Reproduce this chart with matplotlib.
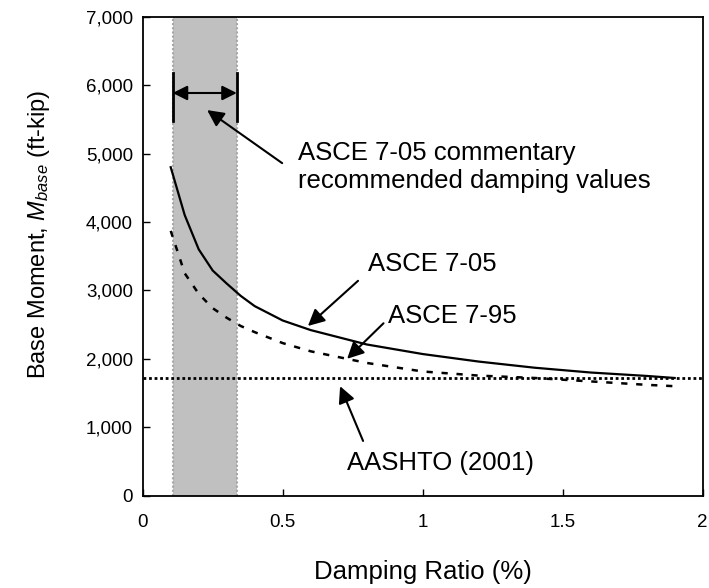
import matplotlib.pyplot as plt
from matplotlib.ticker import FuncFormatter

plt.rcParams['font.family'] = ['Liberation Sans', 'DejaVu Sans']
plt.rcParams['mathtext.fontset'] = 'custom'
plt.rcParams['mathtext.rm'] = 'Liberation Sans'
plt.rcParams['mathtext.it'] = 'Liberation Sans:italic'

# damping ratio (%) and base moment (ft-kip)
damping = [0.1, 0.15, 0.2, 0.25, 0.3, 0.35, 0.4, 0.5, 0.6, 0.8, 1.0, 1.2, 1.4, 1.6, 1.8, 1.9]
asce_705 = [4800, 4100, 3600, 3290, 3100, 2920, 2770, 2560, 2420, 2210, 2070, 1960, 1870, 1800, 1750, 1720]
asce_795 = [3870, 3250, 2950, 2740, 2600, 2480, 2390, 2230, 2110, 1940, 1815, 1755, 1720, 1670, 1620, 1600]
aashto = 1725

# commentary recommended damping range
rec_range = [0.107, 0.336]

fig = plt.figure(figsize=(7.09, 5.88), dpi=100)
ax = fig.add_axes([0.2013, 0.157, 0.7898, 0.8146])

ax.axvspan(rec_range[0], rec_range[1], color='#c0c0c0', lw=0, zorder=0)
for xv in rec_range:
    ax.axvline(xv, color='#a6a6a6', lw=1.5, ls=(0, (1, 1)), zorder=0.5)

ax.plot(damping, asce_705, color='black', lw=1.6)
ax.plot(damping, asce_795, color='black', lw=1.8, ls=(0, (2.5, 3.5)))
ax.axhline(aashto, color='black', lw=2, ls=(0, (1, 1)))

# double arrow for the range
for xv in rec_range:
    ax.plot([xv, xv], [5480, 6180], color='black', lw=2)
ax.annotate('', xy=(rec_range[0], 5885), xytext=(rec_range[1], 5885),
            arrowprops=dict(arrowstyle='<|-|>', color='black', lw=1.5,
                            mutation_scale=22, shrinkA=0, shrinkB=0))

arrow = dict(arrowstyle='-|>', color='black', lw=1.5, mutation_scale=25,
             shrinkA=0, shrinkB=0)
ax.annotate('', xy=(0.23, 5635), xytext=(0.498, 4860), arrowprops=arrow)
ax.text(0.555, 4800, 'ASCE 7-05 commentary\nrecommended damping values',
        fontsize=18.5, ha='left', va='center', linespacing=1.2)

ax.annotate('', xy=(0.59, 2480), xytext=(0.769, 3140), arrowprops=arrow)
ax.text(0.805, 3386, 'ASCE 7-05', fontsize=18.5, ha='left', va='center')

ax.annotate('', xy=(0.73, 2000), xytext=(0.86, 2520), arrowprops=arrow)
ax.text(0.876, 2625, 'ASCE 7-95', fontsize=18.5, ha='left', va='center')

ax.annotate('', xy=(0.705, 1600), xytext=(0.787, 800), arrowprops=arrow)
ax.text(0.73, 480, 'AASHTO (2001)', fontsize=18.5, ha='left', va='center')

ax.set_xlim(0, 2)
ax.set_ylim(0, 7000)
ax.set_xticks([0, 0.5, 1, 1.5, 2])
ax.set_xticklabels(['0', '0.5', '1', '1.5', '2'])
ax.set_yticks(range(0, 7001, 1000))
ax.yaxis.set_major_formatter(FuncFormatter(lambda v, p: f'{v:,.0f}'))
ax.tick_params(direction='in', length=5, width=1, labelsize=13.5)
ax.tick_params(axis='x', pad=13)
ax.tick_params(axis='y', pad=7)
for s in ax.spines.values():
    s.set_linewidth(1.3)

ax.set_xlabel('Damping Ratio (%)', fontsize=18.5, labelpad=21)
ax.set_ylabel(r'Base Moment, $\mathit{M}_{\mathit{base}}$ (ft-kip)', fontsize=17)
ax.yaxis.set_label_coords(-0.162, 0.545)

fig.savefig('out.png', dpi=100)
